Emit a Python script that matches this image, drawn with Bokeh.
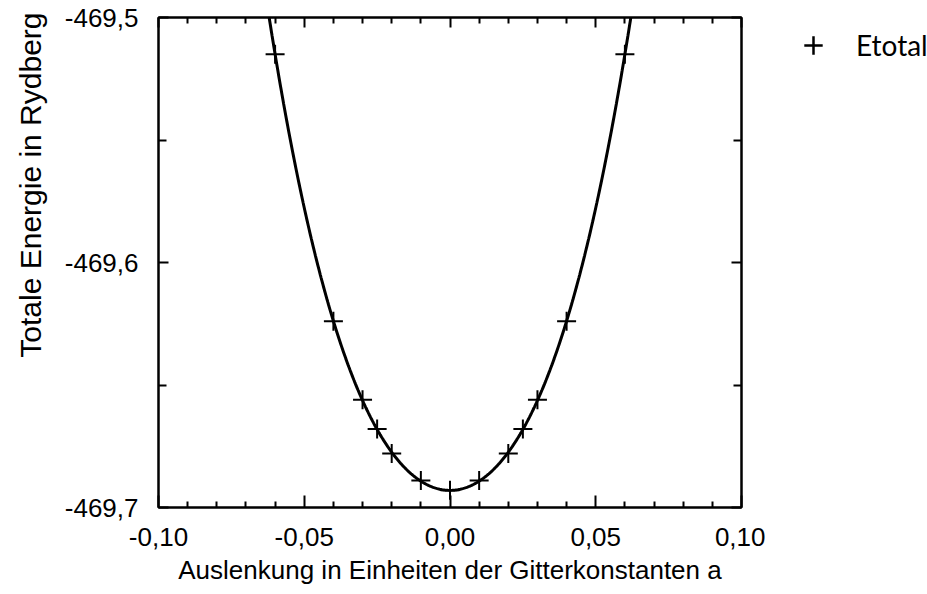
import numpy as np
from bokeh.plotting import figure
from bokeh.layouts import row
from bokeh.models import (Range1d, FixedTicker, LinearAxis, CustomJSTickFormatter,
                          Title, Legend, LegendItem)
from bokeh.embed import file_html
from bokeh.resources import INLINE

# ---- data ----
x_disp = [-0.06, -0.04, -0.03, -0.025, -0.02, -0.01, 0.0, 0.01, 0.02, 0.025, 0.03, 0.04, 0.06]
e_total = [-469.515, -469.624, -469.656, -469.668, -469.678, -469.689, -469.693,
           -469.689, -469.678, -469.668, -469.656, -469.624, -469.515]
x_ticks = [-0.10, -0.05, 0.0, 0.05, 0.10]
x_minor_ticks = [-0.09, -0.08, -0.07, -0.06, -0.04, -0.03, -0.02, -0.01,
                 0.01, 0.02, 0.03, 0.04, 0.06, 0.07, 0.08, 0.09]
y_ticks = [-469.7, -469.6, -469.5]
y_minor_ticks = [-469.65, -469.55]
x_label = "Auslenkung in Einheiten der Gitterkonstanten a"
y_label = "Totale Energie in Rydberg"
series_name = "Etotal"

# smooth fit curve through the measured points (as in the original plot)
fit = np.polynomial.Polynomial.fit(x_disp, e_total, 6)
xs = np.linspace(-0.07, 0.07, 500)
ys = fit(xs)

FONT = "Liberation Sans"
H = 594
MAIN_W = 765
LEG_W = 927 - MAIN_W

p = figure(width=MAIN_W, height=H,
           x_range=Range1d(-0.10, 0.10), y_range=Range1d(-469.7, -469.5),
           output_backend="svg", toolbar_location=None,
           min_border_left=157, min_border_right=24, min_border_top=17, min_border_bottom=87)
p.xgrid.visible = False
p.ygrid.visible = False
p.outline_line_color = "black"
p.outline_line_width = 2
p.background_fill_color = "white"
p.border_fill_color = "white"

xfmt = CustomJSTickFormatter(code="var t = Math.abs(tick) < 1e-9 ? 0 : tick; return t.toFixed(2).replace('.', ',');")
yfmt = CustomJSTickFormatter(code="return tick.toFixed(1).replace('.', ',');")

def style_axis(ax, ticker, major_len, minor_len, labels=True):
    ax.ticker = ticker
    ax.axis_line_color = "black"
    ax.axis_line_width = 2
    ax.major_tick_in = major_len
    ax.major_tick_out = 0
    ax.minor_tick_in = minor_len
    ax.minor_tick_out = 0
    ax.major_tick_line_width = 2
    ax.minor_tick_line_width = 2
    ax.major_tick_line_color = "black"
    ax.minor_tick_line_color = "black"
    if labels:
        ax.major_label_text_font = FONT
        ax.major_label_text_font_size = "26px"
        ax.major_label_text_color = "black"
    else:
        ax.major_label_text_font_size = "1px"
        ax.major_label_text_color = None
        ax.major_label_standoff = 0

xticker = FixedTicker(ticks=x_ticks, minor_ticks=x_minor_ticks)
yticker = FixedTicker(ticks=y_ticks, minor_ticks=y_minor_ticks)

xa = p.xaxis[0]
style_axis(xa, xticker, 12, 6)
xa.formatter = xfmt
xa.major_label_standoff = 20
xa.axis_label = x_label
xa.axis_label_text_font = FONT
xa.axis_label_text_font_size = "26px"
xa.axis_label_text_font_style = "normal"
xa.axis_label_text_color = "black"
xa.axis_label_standoff = 6

ya = p.yaxis[0]
style_axis(ya, yticker, 10, 8)
ya.formatter = yfmt
ya.major_label_standoff = 20

top = LinearAxis()
style_axis(top, xticker, 10, 6, labels=False)
p.add_layout(top, "above")
right = LinearAxis()
style_axis(right, yticker, 10, 8, labels=False)
p.add_layout(right, "right")

p.add_layout(Title(text=y_label, align="right", vertical_align="top", text_font=FONT,
                   text_font_size="30px", text_font_style="normal", text_color="black",
                   standoff=26, offset=-5), "left")

p.line(xs, ys, line_color="black", line_width=3)
p.scatter(x_disp, e_total, marker="cross", size=19, line_color="black", line_width=2)

# ---- legend panel (separate small figure to the right of the plot) ----
lg = figure(width=LEG_W, height=H, x_range=Range1d(0, 1), y_range=Range1d(0, 1),
            output_backend="svg", toolbar_location=None,
            x_axis_location=None, y_axis_location=None, min_border=0)
lg.xgrid.visible = False
lg.ygrid.visible = False
lg.outline_line_color = None
lg.background_fill_color = "white"
lg.border_fill_color = "white"
# same series, outside this panel's visible range: only its legend entry shows
lr = lg.scatter(x_disp, e_total, marker="cross", size=19, line_color="black", line_width=2.5)

legend = Legend(items=[LegendItem(label=series_name, renderers=[lr])],
                location="top_left", glyph_width=86, glyph_height=46, label_standoff=0,
                padding=0, margin=5, spacing=0, border_line_color=None,
                background_fill_alpha=0, label_text_font="Lato",
                label_text_font_size="28px", label_text_color="black")
lg.add_layout(legend)

layout = row(p, lg, spacing=0)
open("out.html", "w").write(file_html(layout, INLINE))
